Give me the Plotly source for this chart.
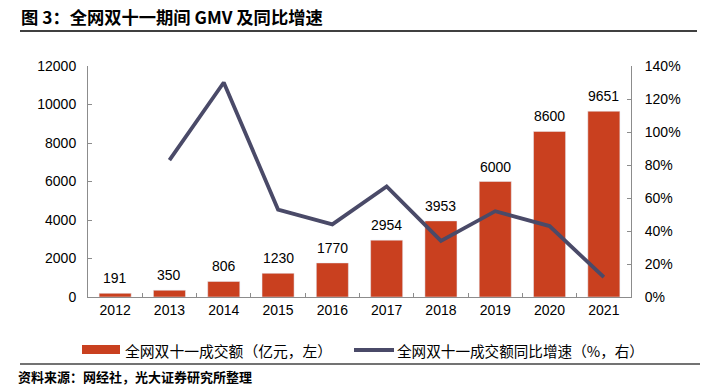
import plotly.graph_objects as go

years = ["2012", "2013", "2014", "2015", "2016", "2017", "2018", "2019", "2020", "2021"]
gmv = [191, 350, 806, 1230, 1770, 2954, 3953, 6000, 8600, 9651]
growth = [None, 83, 130, 53, 44, 67, 34, 52, 43, 12]

bar_name = "全网双十一成交额（亿元，左）"
line_name = "全网双十一成交额同比增速（%，右）"
title_text = "图 3：全网双十一期间 GMV 及同比增速"
source_text = "资料来源：网经社，光大证券研究所整理"

BAR_COLOR = "#C9401F"
LINE_COLOR = "#4A4A68"
AXIS_COLOR = "#8C8C8C"

W, H = 709, 391
L, R, T, B = 88, 631, 66, 297


def px(x):
    return (x - L) / (R - L)


def py(y):
    return (B - y) / (B - T)


num_font = dict(family="Liberation Sans, Arial, sans-serif", size=14, color="#000000")
cjk = "Noto Sans CJK SC, sans-serif"

fig = go.Figure()
fig.add_trace(go.Bar(
    x=years, y=gmv, name=bar_name, marker_color=BAR_COLOR,
    yaxis="y", showlegend=False,
))
fig.add_trace(go.Scatter(
    x=years, y=growth, name=line_name, mode="lines",
    line=dict(color=LINE_COLOR, width=3.8), yaxis="y2", showlegend=False,
))

fig.update_layout(
    width=W, height=H, autosize=False,
    margin=dict(l=L, r=W - R, t=T, b=H - B),
    paper_bgcolor="white", plot_bgcolor="white",
    bargap=0.41,
    font=num_font,
    xaxis=dict(
        type="category", range=[-0.5, len(years) - 0.5],
        showline=True, linecolor=AXIS_COLOR, linewidth=1,
        ticks="inside", ticklen=4, tickcolor=AXIS_COLOR, tickson="boundaries",
        tickfont=num_font, showgrid=False, zeroline=False,
    ),
    yaxis=dict(
        range=[0, 12000], dtick=2000, tickformat="d", showline=True, linecolor=AXIS_COLOR, linewidth=1,
        ticks="inside", ticklen=4, tickcolor=AXIS_COLOR, tickfont=num_font,
        showgrid=False, zeroline=False, ticklabelstandoff=8,
    ),
    yaxis2=dict(
        range=[0, 140], dtick=20, ticksuffix="%", overlaying="y", side="right",
        showline=True, linecolor=AXIS_COLOR, linewidth=1,
        ticks="inside", ticklen=4, tickcolor=AXIS_COLOR, tickfont=num_font,
        showgrid=False, zeroline=False, ticklabelstandoff=10,
    ),
)

shapes = [
    dict(type="line", xref="paper", yref="paper", x0=px(20), x1=px(697), y0=py(31), y1=py(31),
         line=dict(color="#000000", width=1.5)),
    dict(type="line", xref="paper", yref="paper", x0=px(20), x1=px(700), y0=py(364), y1=py(364),
         line=dict(color="#444444", width=1.5)),
    dict(type="rect", xref="paper", yref="paper", x0=px(82), x1=px(120), y0=py(354), y1=py(345),
         fillcolor=BAR_COLOR, line=dict(width=0)),
    dict(type="line", xref="paper", yref="paper", x0=px(354), x1=px(394), y0=py(350), y1=py(350),
         line=dict(color=LINE_COLOR, width=3.8)),
]
annotations = [
    dict(text=str(v), x=i, y=v, xref="x", yref="y", xanchor="center", yanchor="middle",
         yshift=15, showarrow=False, font=num_font)
    for i, v in enumerate(gmv)
] + [
    dict(text="<b>" + title_text + "</b>", x=px(19), y=py(16), xref="paper", yref="paper",
         xanchor="left", yanchor="middle", showarrow=False,
         font=dict(family=cjk, size=17.3, color="#000000")),
    dict(text=bar_name, x=px(123), y=py(350), xref="paper", yref="paper",
         xanchor="left", yanchor="middle", showarrow=False,
         font=dict(family=cjk, size=14.8, color="#000000")),
    dict(text=line_name, x=px(395), y=py(350), xref="paper", yref="paper",
         xanchor="left", yanchor="middle", showarrow=False,
         font=dict(family=cjk, size=14.6, color="#000000")),
    dict(text="<b>" + source_text + "</b>", x=px(16), y=py(376), xref="paper", yref="paper",
         xanchor="left", yanchor="middle", showarrow=False,
         font=dict(family=cjk, size=13, color="#000000")),
]
fig.update_layout(shapes=shapes, annotations=annotations)

fig.write_html("out.html", config={"displayModeBar": False},
               post_script="document.body.style.margin='0';document.body.style.overflow='hidden';")
